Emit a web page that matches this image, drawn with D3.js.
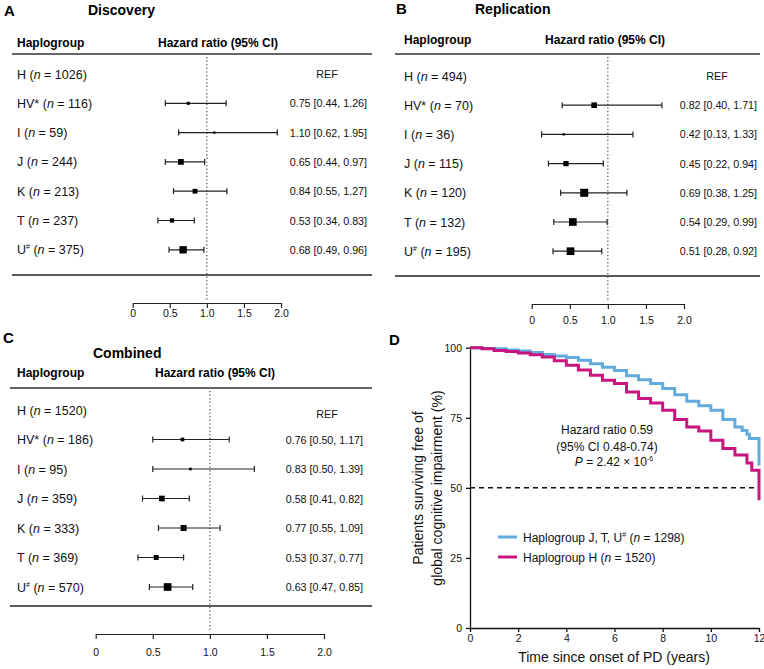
<!DOCTYPE html>
<html>
<head>
<meta charset="utf-8">
<script src="https://cdn.jsdelivr.net/npm/d3@7"></script>
<style>
  body { margin: 0; background: #fff; }
  svg { display: block; font-family: "Liberation Sans", Arial, sans-serif; }
</style>
</head>
<body>
<svg width="764" height="669"></svg>
<script>
"use strict";

// haplogroup rows, shared by the three forest panels
const haplogroups = ["H", "HV*", "I", "J", "K", "T", "U#"];

// A - discovery
const discoveryN = [1026, 116, 59, 244, 213, 237, 375];
const discoveryHR = [null, 0.75, 1.10, 0.65, 0.84, 0.53, 0.68];
const discoveryLo = [null, 0.44, 0.62, 0.44, 0.55, 0.34, 0.49];
const discoveryHi = [null, 1.26, 1.95, 0.97, 1.27, 0.83, 0.96];
const discoveryWeight = [null, 0.38, 0.28, 0.72, 0.6, 0.54, 0.92];

// B - replication
const replicationN = [494, 70, 36, 115, 120, 132, 195];
const replicationHR = [null, 0.82, 0.42, 0.45, 0.69, 0.54, 0.51];
const replicationLo = [null, 0.40, 0.13, 0.22, 0.38, 0.29, 0.28];
const replicationHi = [null, 1.71, 1.33, 0.94, 1.25, 0.99, 0.92];
const replicationWeight = [null, 0.7, 0.28, 0.66, 1.0, 0.96, 0.96];

// C - combined
const combinedN = [1520, 186, 95, 359, 333, 369, 570];
const combinedHR = [null, 0.76, 0.83, 0.58, 0.77, 0.53, 0.63];
const combinedLo = [null, 0.50, 0.50, 0.41, 0.55, 0.37, 0.47];
const combinedHi = [null, 1.17, 1.39, 0.82, 1.09, 0.77, 0.85];
const combinedWeight = [null, 0.46, 0.33, 0.71, 0.75, 0.62, 0.96];

const hrTicks = [0, 0.5, 1, 1.5, 2];

// D - Kaplan-Meier curves (years, % surviving)
const kmTimeJTU = [0, 0.5, 1, 1.5, 2, 2.5, 3, 3.5, 4, 4.5, 5, 5.5, 6, 6.5, 7, 7.5, 8, 8.5, 9, 9.5, 10, 10.5, 11, 11.3, 11.5, 11.6, 12];
const kmSurvJTU = [100, 99.7, 99.6, 99.2, 98.8, 98.3, 97.6, 97, 96.5, 95.5, 94.3, 93, 91.9, 90, 88.6, 87.2, 85.4, 83.2, 80.9, 79.3, 77.7, 74.4, 71.7, 70.5, 69.1, 67.6, 58];
const kmTimeH = [0, 0.5, 1, 1.5, 2, 2.5, 3, 3.5, 4, 4.5, 5, 5.5, 6, 6.5, 7, 7.5, 8, 8.5, 9, 9.5, 10, 10.5, 11, 11.5, 11.7, 12];
const kmSurvH = [100, 99.6, 99, 98.6, 98.1, 97.5, 96.7, 95.3, 93.7, 92, 90.2, 88.4, 87.2, 84.2, 81.9, 80.3, 77.7, 74.4, 71.7, 70.3, 67, 64, 61.7, 58.9, 56.3, 45.6];
const kmLegend = [
  {pre: "Haplogroup J, T, U", sup: "#", n: 1298, color: "#62abdf"},
  {pre: "Haplogroup H", sup: "", n: 1520, color: "#c8157f"}
];
const kmXTicks = [0, 2, 4, 6, 8, 10, 12];
const kmYTicks = [0, 25, 50, 75, 100];

var svg = d3.select("svg");

// row label like  HV* (n = 116) with italic n and superscript #
function rowLabel(sel, name, n) {
  var base = name.replace("#", "");
  sel.append("tspan").text(base);
  if (name.includes("#")) {
    sel.append("tspan").attr("font-size", "7px").attr("dy", -5).text("#");
    sel.append("tspan").attr("dy", 5).text(" (");
  } else {
    sel.append("tspan").text(" (");
  }
  sel.append("tspan").attr("font-style", "italic").text("n");
  sel.append("tspan").text(" = " + n + ")");
}

function fmt(v) { return v.toFixed(2); }

function drawForest(cfg) {
  var g = svg.append("g");
  var x = d3.scaleLinear().domain([0, 2]).range(cfg.xRange);
  var y = function(i) { return cfg.row0 + i * cfg.rowStep; };
  var size = d3.scaleLinear().domain([0, 1]).range([0, 8]);

  g.append("text").attr("x", cfg.letterX).attr("y", cfg.letterY)
    .attr("font-weight", "bold").attr("font-size", "15px").text(cfg.letter);
  g.append("text").attr("x", cfg.titleX).attr("y", cfg.titleY)
    .attr("font-weight", "bold").attr("font-size", "14px").text(cfg.title);

  g.append("text").attr("x", cfg.labelX).attr("y", cfg.headY)
    .attr("font-weight", "bold").attr("font-size", "12px").text("Haplogroup");
  g.append("text").attr("x", cfg.hrHeadX).attr("y", cfg.headY)
    .attr("font-weight", "bold").attr("font-size", "12px").text("Hazard ratio (95% CI)");

  g.append("line").attr("x1", cfg.ruleX[0]).attr("x2", cfg.ruleX[1])
    .attr("y1", cfg.topRule).attr("y2", cfg.topRule)
    .attr("stroke", "#333").attr("stroke-width", 1.5);
  g.append("line").attr("x1", cfg.ruleX[0]).attr("x2", cfg.ruleX[1])
    .attr("y1", cfg.bottomRule).attr("y2", cfg.bottomRule)
    .attr("stroke", "#222").attr("stroke-width", 1.5);

  // reference line at HR = 1
  g.append("line").attr("x1", x(1)).attr("x2", x(1))
    .attr("y1", cfg.topRule + 3).attr("y2", cfg.axisY - 2)
    .attr("stroke", "#444").attr("stroke-width", 1.2)
    .attr("stroke-dasharray", "1.2,2.4");

  var rows = haplogroups.map(function(h, i) {
    return {name: h, n: cfg.n[i], hr: cfg.hr[i], lo: cfg.lo[i], hi: cfg.hi[i], w: cfg.w[i], i: i};
  });

  g.selectAll("text.lab").data(rows).join("text").attr("class", "lab")
    .attr("x", cfg.labelX).attr("y", function(d) { return y(d.i) + 4.5; })
    .attr("font-size", "12.5px").attr("fill", "#111")
    .each(function(d) { rowLabel(d3.select(this), d.name, d.n); });

  g.selectAll("text.val").data(rows).join("text").attr("class", "val")
    .attr("x", function(d) { return d.hr === null ? cfg.refX : cfg.valX; })
    .attr("y", function(d) { return y(d.i) + 4 + (d.hr === null ? cfg.refDy : 0); })
    .attr("text-anchor", function(d) { return d.hr === null ? "middle" : "end"; })
    .attr("font-size", "10.7px").attr("fill", "#111")
    .text(function(d) {
      return d.hr === null ? "REF" : fmt(d.hr) + " [" + fmt(d.lo) + ", " + fmt(d.hi) + "]";
    });

  var est = rows.filter(function(d) { return d.hr !== null; });
  var ci = g.selectAll("g.ci").data(est).join("g").attr("class", "ci")
    .attr("stroke", "#222").attr("stroke-width", 1.2);
  ci.append("line")
    .attr("x1", function(d) { return x(d.lo); }).attr("x2", function(d) { return x(d.hi); })
    .attr("y1", function(d) { return y(d.i); }).attr("y2", function(d) { return y(d.i); });
  ci.append("line")
    .attr("x1", function(d) { return x(d.lo); }).attr("x2", function(d) { return x(d.lo); })
    .attr("y1", function(d) { return y(d.i) - 3; }).attr("y2", function(d) { return y(d.i) + 3; });
  ci.append("line")
    .attr("x1", function(d) { return x(d.hi); }).attr("x2", function(d) { return x(d.hi); })
    .attr("y1", function(d) { return y(d.i) - 3; }).attr("y2", function(d) { return y(d.i) + 3; });
  g.selectAll("rect.box").data(est).join("rect").attr("class", "box")
    .attr("x", function(d) { return x(d.hr) - size(d.w) / 2; })
    .attr("y", function(d) { return y(d.i) - size(d.w) / 2; })
    .attr("width", function(d) { return size(d.w); })
    .attr("height", function(d) { return size(d.w); })
    .attr("fill", "#000");

  var ax = g.append("g").attr("transform", "translate(0," + cfg.axisY + ")")
    .call(d3.axisBottom(x).tickValues(hrTicks).tickSize(5).tickSizeOuter(0)
      .tickPadding(cfg.tickPad)
      .tickFormat(function(d) { return d === 0 ? "0" : d3.format(".1f")(d); }));
  ax.selectAll("text").attr("font-size", "10.5px").attr("fill", "#111")
    .attr("font-family", "Liberation Sans, Arial, sans-serif");
  ax.selectAll("line, path").attr("stroke", "#222").attr("stroke-width", 1.2);
}

drawForest({
  letter: "A", letterX: 4, letterY: 16, title: "Discovery", titleX: 88, titleY: 15,
  labelX: 17, hrHeadX: 158, headY: 47, ruleX: [12, 372], topRule: 54, bottomRule: 275,
  row0: 74, rowStep: 29.3, xRange: [132.7, 281], axisY: 303, tickPad: 2,
  valX: 367, refX: 327, refDy: 0,
  n: discoveryN, hr: discoveryHR, lo: discoveryLo, hi: discoveryHi, w: discoveryWeight
});

drawForest({
  letter: "B", letterX: 396, letterY: 14, title: "Replication", titleX: 475, titleY: 14,
  labelX: 404, hrHeadX: 545, headY: 44, ruleX: [395, 760], topRule: 54, bottomRule: 276,
  row0: 76, rowStep: 29.2, xRange: [531.7, 684], axisY: 304, tickPad: 8,
  valX: 757, refX: 717, refDy: 0,
  n: replicationN, hr: replicationHR, lo: replicationLo, hi: replicationHi, w: replicationWeight
});

drawForest({
  letter: "C", letterX: 3, letterY: 343, title: "Combined", titleX: 93, titleY: 358,
  labelX: 17, hrHeadX: 155, headY: 377, ruleX: [10, 372], topRule: 388, bottomRule: 606,
  row0: 410, rowStep: 29.5, xRange: [95.7, 324], axisY: 634, tickPad: 10,
  valX: 363, refX: 327, refDy: 4,
  n: combinedN, hr: combinedHR, lo: combinedLo, hi: combinedHi, w: combinedWeight
});

// ---- panel D: Kaplan-Meier ----
var gd = svg.append("g");
var kx = d3.scaleLinear().domain([0, 12]).range([470, 759]);
var ky = d3.scaleLinear().domain([0, 100]).range([628, 347.7]);

gd.append("text").attr("x", 389).attr("y", 345)
  .attr("font-weight", "bold").attr("font-size", "15px").text("D");

var xa = gd.append("g").attr("transform", "translate(0,628)")
  .call(d3.axisBottom(kx).tickValues(kmXTicks).tickSize(4).tickSizeOuter(0).tickPadding(3));
var ya = gd.append("g").attr("transform", "translate(470,0)")
  .call(d3.axisLeft(ky).tickValues(kmYTicks).tickSize(4).tickSizeOuter(0).tickPadding(4));
[xa, ya].forEach(function(a) {
  a.selectAll("text").attr("font-size", "10.5px").attr("fill", "#111")
    .attr("font-family", "Liberation Sans, Arial, sans-serif");
  a.selectAll("line, path").attr("stroke", "#111").attr("stroke-width", 1.3);
});

// 50% reference
gd.append("line").attr("x1", kx(0)).attr("x2", kx(12)).attr("y1", ky(50)).attr("y2", ky(50))
  .attr("stroke", "#111").attr("stroke-width", 1.5).attr("stroke-dasharray", "5,4");

var km = d3.line().curve(d3.curveStepAfter)
  .x(function(d) { return kx(d[0]); }).y(function(d) { return ky(d[1]); });
var curves = [
  {pts: d3.zip(kmTimeJTU, kmSurvJTU), color: kmLegend[0].color},
  {pts: d3.zip(kmTimeH, kmSurvH), color: kmLegend[1].color}
];
gd.selectAll("path.km").data(curves).join("path").attr("class", "km")
  .attr("d", function(d) { return km(d.pts); })
  .attr("fill", "none").attr("stroke", function(d) { return d.color; })
  .attr("stroke-width", 3);

// axis titles
gd.append("text").attr("x", 614).attr("y", 662).attr("text-anchor", "middle")
  .attr("font-size", "14px").attr("fill", "#111").text("Time since onset of PD (years)");
var yt = gd.append("text").attr("transform", "translate(423,488) rotate(-90)")
  .attr("text-anchor", "middle").attr("font-size", "14px").attr("fill", "#111");
yt.append("tspan").attr("x", 0).attr("y", 0).text("Patients surviving free of");
yt.append("tspan").attr("x", 0).attr("y", 19).text("global cognitive impairment (%)");

// annotation
var ann = gd.append("text").attr("text-anchor", "middle").attr("font-size", "12px").attr("fill", "#111");
ann.append("tspan").attr("x", 607).attr("y", 434).text("Hazard ratio 0.59");
ann.append("tspan").attr("x", 607).attr("y", 451).text("(95% CI 0.48-0.74)");
var p = gd.append("text").attr("x", 614).attr("y", 466).attr("text-anchor", "middle")
  .attr("font-size", "12px").attr("fill", "#111");
p.append("tspan").attr("font-style", "italic").text("P");
p.append("tspan").text(" = 2.42 × 10");
p.append("tspan").attr("font-size", "7px").attr("dy", -5).text("-6");

// legend
var lg = gd.selectAll("g.leg").data(kmLegend).join("g").attr("class", "leg")
  .attr("transform", function(d, i) { return "translate(498," + (537 + i * 20) + ")"; });
lg.append("line").attr("x1", 0).attr("x2", 19).attr("y1", 0).attr("y2", 0)
  .attr("stroke", function(d) { return d.color; }).attr("stroke-width", 3);
lg.append("text").attr("x", 25).attr("y", 4.5).attr("font-size", "12px").attr("fill", "#111")
  .each(function(d) {
    var t = d3.select(this);
    t.append("tspan").text(d.pre);
    if (d.sup) {
      t.append("tspan").attr("font-size", "7px").attr("dy", -5).text(d.sup);
      t.append("tspan").attr("dy", 5).text(" (");
    } else {
      t.append("tspan").text(" (");
    }
    t.append("tspan").attr("font-style", "italic").text("n");
    t.append("tspan").text(" = " + d.n + ")");
  });
</script>
</body>
</html>
